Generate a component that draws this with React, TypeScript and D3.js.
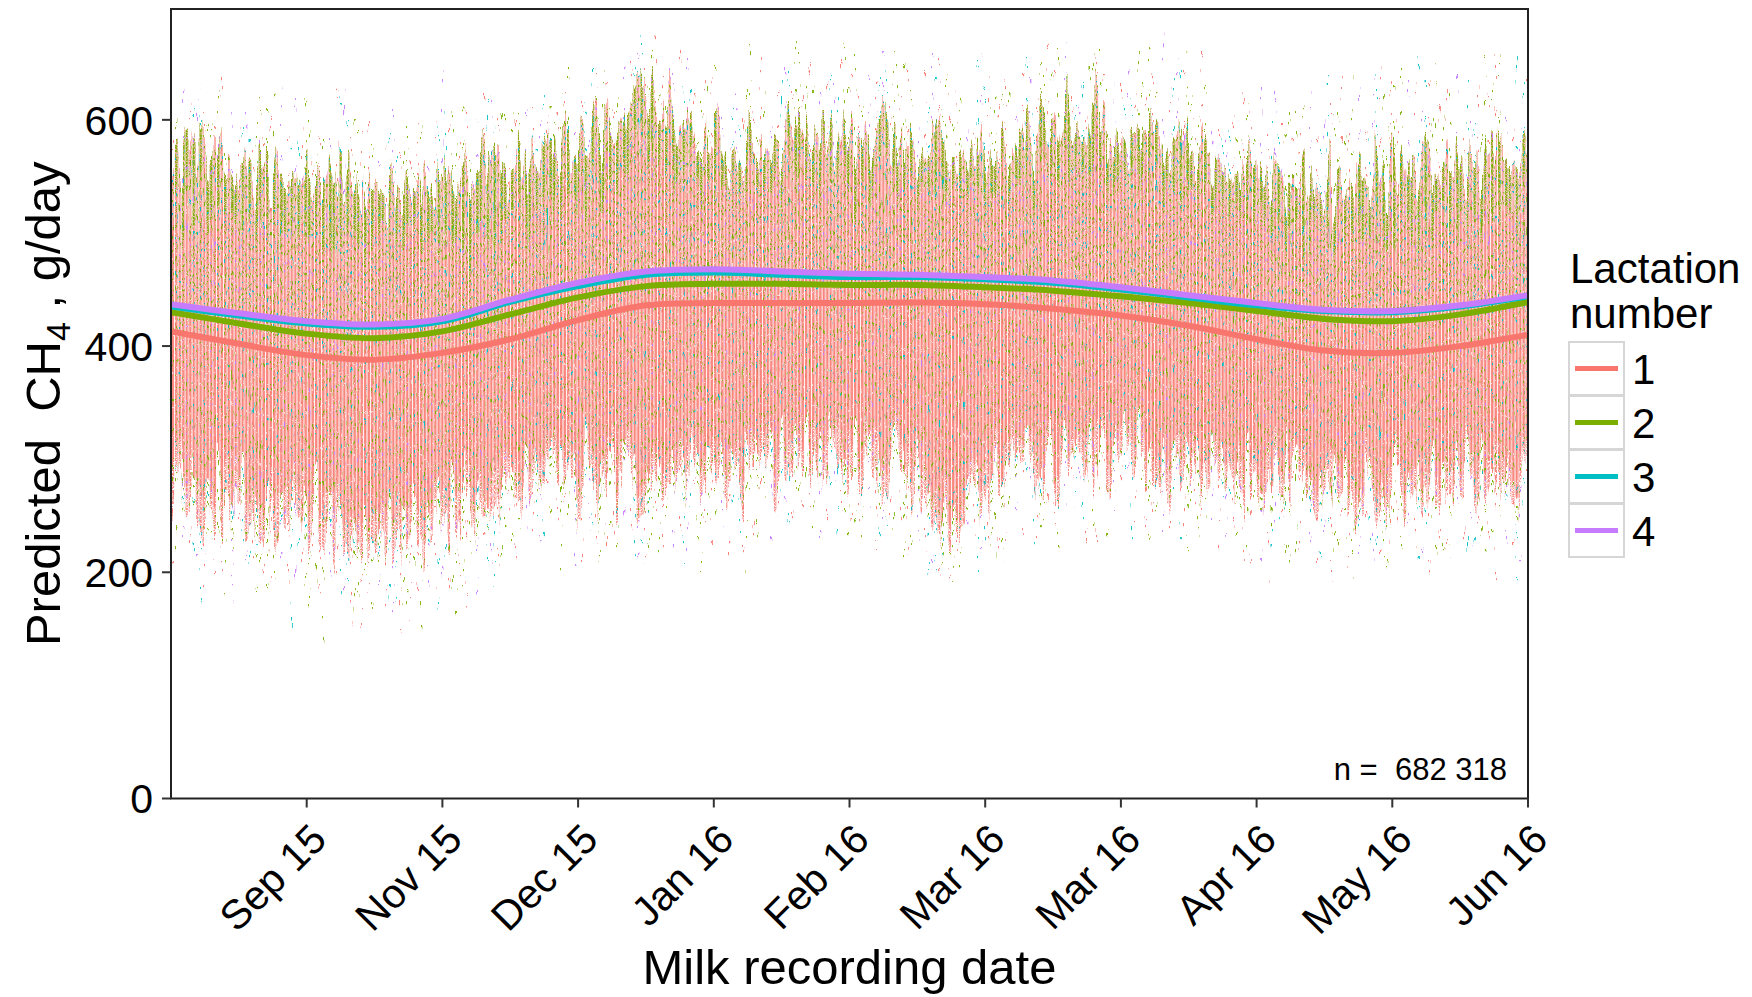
import React from 'react';
import * as d3 from 'd3';

// ---------- data ----------
const lactations = ['1', '2', '3', '4'];
const lactationColors = ['#F8766D', '#7CAE00', '#00BFC4', '#C77CFF'];

// x axis: ordered milk-recording dates, expressed in tick intervals (0 = first recording, 10 = last)
const xTickPositions = [1, 2, 3, 4, 5, 6, 7, 8, 9, 10];
const xTickLabels = ['Sep 15', 'Nov 15', 'Dec 15', 'Jan 16', 'Feb 16', 'Mar 16', 'Mar 16', 'Apr 16', 'May 16', 'Jun 16'];
const yTicks = [0, 200, 400, 600];

// smoothed curves per lactation number (g/day)
const curvePos = [0, 0.5, 1, 1.5, 2, 2.5, 3, 3.5, 4, 4.5, 5, 5.5, 6, 6.5, 7, 7.5, 8, 8.5, 9, 9.5, 10];
const lact1 = [413, 402, 392, 388, 394, 406, 423, 436, 438, 438, 438, 438.5, 437, 433, 427, 418, 406, 396, 394, 400, 410];
const lact2 = [430, 420, 411, 407, 413, 428, 443, 453, 455, 455, 454, 454, 452, 449, 444, 438, 431, 424, 422, 428, 439];
const lact3 = [435, 427, 420, 417, 422, 439, 453, 463, 465, 463, 461, 461, 459, 456, 450, 443, 436, 431, 430, 435, 444];
const lact4 = [437, 429, 422, 419, 424, 441, 456, 466, 468, 466, 464, 463, 461, 458, 452, 445, 438, 432, 431, 436, 445];
const lactSeries = [lact1, lact2, lact3, lact4];

// envelopes of the point cloud (g/day)
const envPos = [0, 0.25, 0.5, 0.75, 1, 1.25, 1.5, 1.75, 2, 2.25, 2.5, 2.75, 3, 3.25, 3.5, 3.75, 4, 4.25, 4.5, 4.75, 5,
  5.25, 5.5, 5.75, 6, 6.25, 6.5, 6.75, 7, 7.25, 7.5, 7.75, 8, 8.25, 8.5, 8.75, 9, 9.25, 9.5, 9.75, 10];
const outerHigh = [600, 612, 605, 608, 600, 603, 598, 595, 600, 605, 612, 620, 625, 640, 660, 648, 632, 638, 642, 640, 645,
  648, 642, 632, 635, 640, 665, 658, 645, 648, 640, 625, 618, 610, 615, 622, 628, 630, 632, 635, 630];
const denseHigh = [560, 566, 558, 552, 548, 545, 538, 540, 545, 550, 560, 570, 578, 595, 615, 600, 580, 576, 582, 586, 584,
  583, 580, 570, 570, 576, 598, 605, 590, 583, 576, 565, 555, 545, 538, 545, 552, 558, 562, 566, 570];
const salmonHigh = [515, 518, 512, 505, 500, 496, 492, 494, 498, 504, 514, 524, 534, 550, 570, 556, 545, 543, 548, 552, 548,
  546, 545, 537, 536, 542, 556, 562, 548, 542, 536, 527, 517, 507, 500, 502, 507, 512, 515, 518, 522];
const salmonLow = [292, 287, 282, 274, 268, 264, 262, 264, 268, 276, 295, 304, 306, 300, 298, 300, 305, 310, 316, 318, 318,
  316, 310, 262, 300, 306, 310, 316, 318, 312, 305, 300, 298, 295, 292, 292, 290, 290, 292, 295, 298];
const denseLow = [262, 255, 248, 240, 234, 231, 230, 232, 238, 250, 270, 280, 283, 278, 272, 275, 280, 285, 288, 290, 288,
  286, 282, 236, 275, 282, 288, 292, 292, 286, 280, 276, 274, 272, 270, 268, 265, 266, 270, 272, 275];
const outerLow = [205, 200, 195, 185, 175, 168, 162, 168, 175, 190, 215, 225, 230, 222, 215, 220, 225, 232, 238, 238, 235,
  230, 222, 195, 218, 230, 238, 240, 240, 235, 230, 228, 225, 220, 215, 212, 210, 212, 215, 218, 220];

const sampleSize = '682 318';

// ---------- styling ----------
const FONT = '"Liberation Sans", Arial, Helvetica, sans-serif';
const S = '#F8766D', G = '#7CAE00', C = '#00BFC4', P = '#C77CFF';
const cols = [0, 1, 2, 3, 4, 5, 6];
const PW = 3.5; // column pitch

const coreDots: [number, number, string][] = [
  [0, 4, G], [1, 19, G], [2, 10, C], [3, 27, G], [4, 2, P], [5, 15, G], [6, 23, C], [2, 30, G], [4, 20, G],
];
const coreUpDots: [number, number, string][] = [
  [0, 4, G], [1, 19, G], [2, 10, C], [3, 27, G], [4, 2, P], [5, 15, G], [6, 23, C], [2, 30, G], [6, 7, G],
  [4, 20, G], [1, 8, G], [3, 13, G], [5, 28, P], [0, 24, G], [6, 15, G], [3, 6, G], [5, 4, G], [1, 30, C],
];
const coreGaps: [number, number][] = [[0, 12], [1, 5], [2, 22], [3, 14], [4, 29], [5, 8], [6, 18], [1, 27], [3, 3]];
const upDots: [number, number, string][] = [
  [0, 6, C], [2, 14, P], [5, 25, C], [0, 28, G], [2, 3, G], [5, 10, G], [3, 20, C], [6, 29, P], [4, 8, P], [1, 16, C],
  [0, 17, G], [2, 24, G], [5, 18, G],
];
const lowDots: [number, number, string][] = [
  [3, 5, G], [3, 16, G], [3, 27, C], [6, 10, G], [6, 21, G], [1, 8, C], [4, 19, P], [2, 26, G], [0, 14, G], [5, 2, G],
];
const sparseDots: [number, number, string][] = [
  [1, 4, G], [5, 30, S], [8, 12, C], [11, 38, G], [3, 20, P], [9, 2, S], [13, 24, G], [6, 42, C], [0, 36, S], [10, 28, G],
  [12, 9, S], [7, 33, P],
];

export default function App() {
  const W = 1752, H = 997;
  const left = 171, right = 1528, top = 9, bottom = 798.5;
  const x = d3.scaleLinear().domain([0, 10]).range([left, right]);
  const y = d3.scaleLinear().domain([0, 698]).range([bottom, top]);

  const band = (lo: number[], hi: number[], pos: number[] = envPos) =>
    d3.area<number>()
      .x((d) => x(d))
      .y0((_, i) => y(lo[i]))
      .y1((_, i) => y(hi[i]))
      .curve(d3.curveMonotoneX)(pos) || '';

  // lower edge for the upper core zone: lactation-2 curve resampled on the envelope grid through a scale
  const lact2Scale = d3.scaleLinear<number>().domain(curvePos).range(lact2);
  const lact2OnEnv = envPos.map((p) => lact2Scale(p));

  const line = d3.line<number>()
    .x((_, i) => x(curvePos[i]))
    .y((d) => y(d))
    .curve(d3.curveCatmullRom);

  const legendX = 1569, legendTop = 342, keyW = 55, keyH = 53, keyPitch = 54;

  const stripes = (op: number) => cols.map((c) => (
    <rect key={'s' + c} x={c * PW + 0.5} y={0} width={2.5} height={33} fill={S} fillOpacity={op} />
  ));
  const dots = (list: [number, number, string][]) => list.map(([c, yy, col], i) => (
    <rect key={'d' + i} x={c * PW + 0.5} y={yy} width={2.5} height={2.2} fill={col} />
  ));

  return (
    <svg width={W} height={H} style={{ position: 'absolute', left: 0, top: 0, background: '#fff' }}
      fontFamily={FONT}>
      <defs>
        <clipPath id="plot">
          <rect x={left} y={top} width={right - left} height={bottom - top} />
        </clipPath>
        <filter id="rough" filterUnits="userSpaceOnUse" x={0} y={0} width={W} height={H}
          colorInterpolationFilters="sRGB">
          <feTurbulence type="fractalNoise" baseFrequency="0.19 0.005" numOctaves={2} seed={7} result="noise" />
          <feColorMatrix in="noise" type="matrix"
            values="0 0 0 0 0.5  0 1 0 0 0  0 0 0 0 0  0 0 0 0 1" result="disp" />
          <feDisplacementMap in="SourceGraphic" in2="disp" scale={150} xChannelSelector="R" yChannelSelector="G" />
        </filter>
        <pattern id="core" patternUnits="userSpaceOnUse" x={left} y={0} width={PW * 7} height={33}>
          {stripes(0.88)}
          {coreGaps.map(([c, yy], i) => (
            <rect key={'g' + i} x={c * PW + 0.5} y={yy} width={2.5} height={0.9} fill="#fff" fillOpacity={0.7} />
          ))}
          {dots(coreDots)}
        </pattern>
        <pattern id="coreUp" patternUnits="userSpaceOnUse" x={left} y={0} width={PW * 7} height={33}>
          {stripes(0.8)}
          {coreGaps.map(([c, yy], i) => (
            <rect key={'g' + i} x={c * PW + 0.5} y={yy} width={2.5} height={0.9} fill="#fff" fillOpacity={0.7} />
          ))}
          {dots(coreUpDots)}
        </pattern>
        <pattern id="mixUp" patternUnits="userSpaceOnUse" x={left} y={0} width={PW * 7} height={33}>
          {stripes(0.6)}
          {[1, 3, 4, 6].map((c) => (
            <line key={'l' + c} x1={c * PW + 1.75} x2={c * PW + 1.75} y1={0} y2={33} stroke={G}
              strokeWidth={2.5} strokeDasharray="2.2 1.1" strokeDashoffset={c * 0.7} />
          ))}
          {dots(upDots)}
        </pattern>
        <pattern id="mixLow" patternUnits="userSpaceOnUse" x={left} y={0} width={PW * 7} height={33}>
          {[0, 1, 2, 4, 5].map((c) => (
            <line key={'l' + c} x1={c * PW + 1.75} x2={c * PW + 1.75} y1={0} y2={33} stroke={S}
              strokeOpacity={0.85} strokeWidth={2.5} strokeDasharray="2.3 1.0" strokeDashoffset={c * 0.9} />
          ))}
          {dots(lowDots)}
        </pattern>
        <pattern id="sparse" patternUnits="userSpaceOnUse" x={left} y={0} width={PW * 14} height={46}>
          {sparseDots.map(([c, yy, col], i) => (
            <rect key={'d' + i} x={c * PW + 0.5} y={yy} width={2.4} height={2.2} fill={col} fillOpacity={0.9} />
          ))}
        </pattern>
      </defs>

      <rect x={0} y={0} width={W} height={H} fill="#fff" />

      {/* point cloud */}
      <g clipPath="url(#plot)">
        <g filter="url(#rough)">
          <path d={band(outerLow, outerHigh)} fill="url(#sparse)" />
          <path d={band(denseLow, salmonLow)} fill="url(#mixLow)" />
          <path d={band(salmonHigh, denseHigh)} fill="url(#mixUp)" />
          <path d={band(salmonLow, lact2OnEnv)} fill="url(#core)" />
          <path d={band(lact2OnEnv, salmonHigh)} fill="url(#coreUp)" />
        </g>
        {lactSeries.map((s, i) => (
          <path key={i} d={line(s) || ''} fill="none" stroke={lactationColors[i]} strokeWidth={6} />
        ))}
      </g>

      {/* panel border */}
      <rect x={left} y={top} width={right - left} height={bottom - top} fill="none" stroke="#222" strokeWidth={2} />

      {/* y axis */}
      {yTicks.map((t) => (
        <g key={t}>
          <line x1={left - 9} x2={left} y1={y(t)} y2={y(t)} stroke="#333" strokeWidth={2} />
          <text x={153} y={y(t)} dy="0.36em" textAnchor="end" fontSize={41} fill="#000">{t}</text>
        </g>
      ))}

      {/* x axis */}
      {xTickPositions.map((p, i) => (
        <g key={i}>
          <line x1={x(p)} x2={x(p)} y1={bottom} y2={bottom + 9} stroke="#333" strokeWidth={2} />
          <text transform={`translate(${x(p) + 22},${bottom + 43}) rotate(-45)`} textAnchor="end"
            fontSize={41} fill="#000">{xTickLabels[i]}</text>
        </g>
      ))}

      {/* axis titles */}
      <text x={(left + right) / 2} y={984} textAnchor="middle" fontSize={49} fill="#000">Milk recording date</text>
      <text transform={`translate(60,${(top + bottom) / 2}) rotate(-90)`} textAnchor="middle" fontSize={49}
        fill="#000" style={{ whiteSpace: 'pre' }}>
        <tspan>{'Predicted  CH'}</tspan>
        <tspan fontSize={34} dy={10}>4</tspan>
        <tspan dy={-10}>{' , g/day'}</tspan>
      </text>

      {/* sample size */}
      <text x={1507} y={780} textAnchor="end" fontSize={31} fill="#000" style={{ whiteSpace: 'pre' }}>
        {'n =  ' + sampleSize}
      </text>

      {/* legend */}
      <text x={1570} y={283} fontSize={42} fill="#000">Lactation</text>
      <text x={1570} y={328} fontSize={42} fill="#000">number</text>
      {lactations.map((l, i) => {
        const ky = legendTop + i * keyPitch;
        return (
          <g key={l}>
            <rect x={legendX} y={ky} width={keyW} height={keyH} fill="#fff" stroke="#d6d6d6" strokeWidth={2} />
            <line x1={legendX + 6} x2={legendX + keyW - 6} y1={ky + keyH / 2} y2={ky + keyH / 2}
              stroke={lactationColors[i]} strokeWidth={5} />
            <text x={1632} y={ky + keyH / 2} dy="0.36em" fontSize={42} fill="#000">{l}</text>
          </g>
        );
      })}
    </svg>
  );
}
